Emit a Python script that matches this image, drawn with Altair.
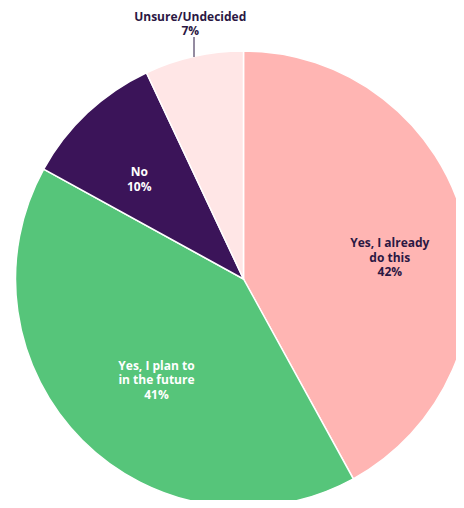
import altair as alt
import pandas as pd

categories = ["Yes, I already do this", "Yes, I plan to in the future", "No", "Unsure/Undecided"]
values = [42, 41, 10, 7]
labels = ["Yes, I already\ndo this\n42%", "Yes, I plan to\nin the future\n41%", "No\n10%", "Unsure/Undecided\n7%"]
colors = ["#FFB5B3", "#56C57A", "#3B1459", "#FFE6E6"]

df = pd.DataFrame({"category": categories, "value": values, "label": labels,
                   "idx": list(range(len(categories)))})

CX, CY, R = 235.5, 271, 228
DARK = "#2B1843"
LH = 14.5

base = alt.Chart(df)

pie = base.mark_arc(stroke="white", strokeWidth=1.5).encode(
    theta=alt.Theta("value:Q", stack=True, scale=alt.Scale(domain=[0, 100])),
    order=alt.Order("idx:Q"),
    color=alt.Color("category:N", scale=alt.Scale(domain=categories, range=colors), legend=None),
    x=alt.value(CX), y=alt.value(CY), radius=alt.value(R),
)

def label_layer(cat, r, dx, dy, color):
    return base.transform_stack(
        stack="value", groupby=[], as_=["v0", "v1"], sort=[alt.SortField("idx")]
    ).transform_calculate(
        mid="(datum.v0 + datum.v1) / 2"
    ).transform_filter(
        alt.datum.category == cat
    ).mark_text(
        font="Open Sans", fontSize=12, fontWeight="bold", lineBreak="\n", lineHeight=LH,
        align="center", baseline="middle", dx=dx, dy=dy, color=color
    ).encode(
        theta=alt.Theta("mid:Q", scale=alt.Scale(domain=[0, 100], range=[0, 6.283185307179586])),
        radius=alt.value(r), x=alt.value(CX), y=alt.value(CY),
        text="label:N",
    )

leader = base.transform_filter(alt.datum.category == "Unsure/Undecided").mark_rule(
    color=DARK, strokeWidth=1
).encode(x=alt.value(186), y=alt.value(29), y2=alt.value(49))

chart = alt.layer(
    pie,
    leader,
    label_layer(categories[0], 150, 1, 1.5, DARK),
    label_layer(categories[1], 133, 7, -7.5, "white"),
    label_layer(categories[2], 145, -5, -1.25, "white"),
    label_layer(categories[3], 258, 3, -10.25, DARK),
).properties(
    width=448, height=492, autosize=alt.AutoSizeParams(type="none"), padding=0
).configure_view(stroke=None)

chart.save("out.html", embed_options={"renderer": "svg", "actions": False})
